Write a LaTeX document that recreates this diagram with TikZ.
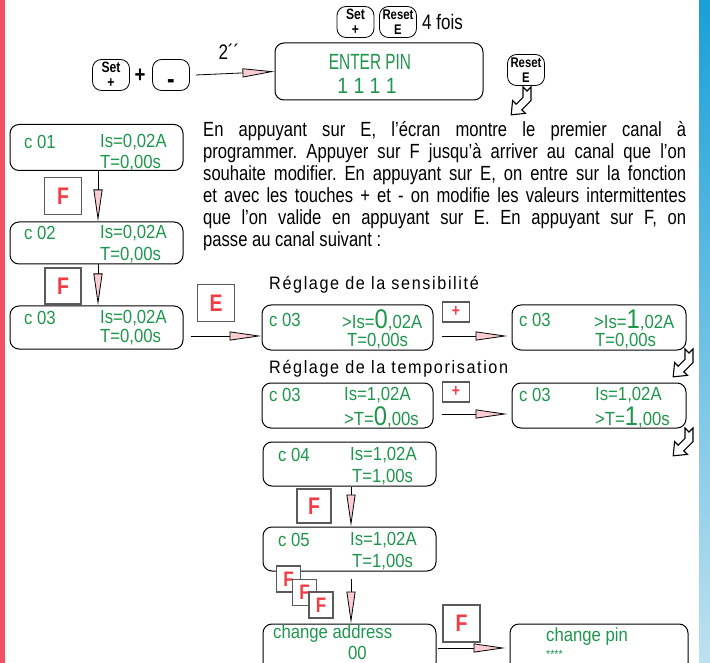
\documentclass[tikz,border=0pt]{standalone}
\usepackage{fontspec}
\setmainfont[FakeStretch=0.81]{Liberation Sans}
\newfontfamily\lcdfont[FakeStretch=0.88]{Liberation Sans}
\newfontfamily\pinfont[FakeStretch=0.7]{Liberation Sans}
\newfontfamily\spacedfont[FakeStretch=0.9,LetterSpace=9]{Liberation Sans}
\usetikzlibrary{arrows.meta,positioning}
\definecolor{LcdGreen}{RGB}{30,150,75}
\definecolor{KeyRed}{RGB}{245,60,70}
\definecolor{ArrowPink}{RGB}{250,205,210}
\definecolor{FrameGray}{RGB}{90,90,90}
\definecolor{StripRed}{RGB}{240,80,100}
\definecolor{StripBlue}{RGB}{25,160,215}
\definecolor{StripPale}{RGB}{190,225,240}

% hollow turning arrow, #1 = top left corner
\newcommand\turnarrow[1]{%
  \draw[line width=1.1pt, line join=miter, fill=white, shift={(#1)}]
    (16,0) -- (20,4) -- (24,0) -- (24,13.7) -- (14.8,22.8) -- (18.4,26.4)
    -- (4.2,27.8) -- (5.6,13.6) -- (9.2,17.2) -- (16,10.3) -- cycle;}

\begin{document}
\begin{tikzpicture}[x=1pt,y=-1pt,
    lcd/.style={draw, line width=1pt, rounded corners=9pt, inner sep=0pt},
    lcdtxt/.style={font=\lcdfont\fontsize{19}{19}\selectfont, text=LcdGreen, inner sep=0pt, anchor=west},
    keycap/.style={draw, line width=0.8pt, rounded corners=9pt, minimum width=37pt, minimum height=31pt,
      inner sep=0pt, align=center, font=\bfseries\fontsize{15}{15}\selectfont},
    fkey/.style={draw=FrameGray, line width=1.2pt, fill=white, inner sep=0pt, text=KeyRed,
      font=\bfseries\fontsize{24}{24}\selectfont},
    flow/.style={line width=0.8pt, -{Triangle[length=32pt,width=9pt,fill=ArrowPink]}},
  ]
  \useasboundingbox (0,0) rectangle (710,663);
  \clip (0,0) rectangle (710,663);
  \fill[StripRed] (0,0) rectangle (5,663);
  \shade[top color=StripBlue, bottom color=StripPale] (699,0) rectangle (710,663);

  % start: keys and PIN screen
  \node[keycap] (set) at (111,75) {Set\\+};
  \node[font=\bfseries\fontsize{23}{23}\selectfont, inner sep=0pt] (plus) at (140,76) {+};
  \node[keycap, font=\bfseries\fontsize{28}{28}\selectfont] (minus) at (171,75) {\raisebox{-14pt}[0pt][0pt]{-}};
  \node[lcd, minimum width=208pt, minimum height=57pt] (pin) at (379,71.5) {};
  \node[lcdtxt, anchor=center, font=\pinfont\fontsize{22}{22}\selectfont] (pintitle) at (370,62) {ENTER PIN};
  \node[lcdtxt, anchor=center, font=\lcdfont\fontsize{22}{22}\selectfont] (pincode) at (367,86) {1 1 1 1};
  \draw[flow] ([xshift=6pt]minus.east) -- (pin.west) node[pos=0.42, above=10pt, font=\fontsize{21}{21}\selectfont] {2´´};
  \node[keycap] (setb) at (355.5,22) {Set\\+};
  \node[keycap, font=\bfseries\fontsize{14}{15}\selectfont] (resetb) at (398,22) {Reset\\E};
  \node[anchor=west, inner sep=0pt, font=\fontsize{21}{21}\selectfont] (fois) at (422,22) {4 fois};
  \node[keycap, font=\bfseries\fontsize{14}{15}\selectfont] (resetc) at (526,70) {Reset\\E};
  \turnarrow{507,87}

  % explanation
  \node[anchor=north west, inner sep=0pt, align=left, font=\frenchspacing\fontsize{20.5}{22}\selectfont] (intro) at (203,121) {%
    \makebox[483pt][s]{En appuyant sur E, l'écran montre le premier canal à}\\
    \makebox[483pt][s]{programmer. Appuyer sur F jusqu'à arriver au canal que l'on}\\
    \makebox[483pt][s]{souhaite modifier. En appuyant sur E, on entre sur la fonction}\\
    \makebox[483pt][s]{et avec les touches + et - on modifie les valeurs intermittentes}\\
    \makebox[483pt][s]{que l'on valide en appuyant sur E. En appuyant sur F, on}\\
    passe au canal suivant :};

  % channels 01 to 03
  \foreach \n/\y/\h/\a/\b in {01/147.5/46/142/163, 02/243/42/233/255, 03/327.5/43/318/337} {
    \node[lcd, minimum width=173pt, minimum height=\h pt] (c\n) at (96.5,\y) {};
    \node[lcdtxt] at (24,\a) {c \n};
    \node[lcdtxt] at (100,\a) {Is=0,02A};
    \node[lcdtxt] at (100,\b) {T=0,00s};
  }
  \node[fkey, minimum size=37pt] (f1) at (63,196) {F};
  \node[fkey, minimum size=36pt] (f2) at (63,286) {F};
  \draw[flow] ([xshift=1.5pt]c01.south) -- ([xshift=1.5pt]c02.north);
  \draw[flow] ([xshift=1.5pt]c02.south) -- ([xshift=1.5pt]c03.north);
  \node[fkey, minimum size=37pt] (e1) at (216,303) {E};

  % sensibility
  \node[anchor=west, inner sep=0pt, font=\spacedfont\fontsize{18}{18}\selectfont] (lblsens) at (269,285) {Réglage de la sensibilité};
  \node[lcd, minimum width=171pt, minimum height=45pt] (sensa) at (347.5,327.5) {};
  \node[lcdtxt] at (269,320) {c 03};
  \node[lcdtxt] at (342,320) {>Is=\fontsize{27}{27}\selectfont 0\fontsize{19}{19}\selectfont,02A};
  \node[lcdtxt] at (347,341) {T=0,00s};
  \node[lcd, minimum width=174pt, minimum height=45pt] (sensb) at (599,327.5) {};
  \node[lcdtxt] at (519,320) {c 03};
  \node[lcdtxt] at (594,320) {>Is=\fontsize{27}{27}\selectfont 1\fontsize{19}{19}\selectfont,02A};
  \node[lcdtxt] at (595,341) {T=0,00s};
  \draw[flow] ([shift={(7,8.5)}]c03.east) -- ([yshift=-8.5pt]sensa.west);
  \draw[flow] ([shift={(8,8.5)}]sensa.east) -- ([shift={(-4,8.5)}]sensb.west);
  \node[fkey, minimum width=27pt, minimum height=20pt, font=\bfseries\fontsize{17}{17}\selectfont] (plus1) at (456,312) {+};
  \turnarrow{669,349}

  % timer
  \node[anchor=west, inner sep=0pt, font=\spacedfont\fontsize{18}{18}\selectfont] (lbltemp) at (269,369) {Réglage de la temporisation};
  \node[lcd, minimum width=171pt, minimum height=45pt] (tempa) at (347.5,405.5) {};
  \node[lcdtxt] at (269,395) {c 03};
  \node[lcdtxt] at (344,395) {Is=1,02A};
  \node[lcdtxt] at (344,417) {>T=\fontsize{27}{27}\selectfont 0\fontsize{19}{19}\selectfont,00s};
  \node[lcd, minimum width=174pt, minimum height=45pt] (tempb) at (599,405.5) {};
  \node[lcdtxt] at (519,395) {c 03};
  \node[lcdtxt] at (595,395) {Is=1,02A};
  \node[lcdtxt] at (595,417) {>T=\fontsize{27}{27}\selectfont 1\fontsize{19}{19}\selectfont,00s};
  \draw[flow] ([shift={(8,8.5)}]tempa.east) -- ([shift={(-4,8.5)}]tempb.west);
  \node[fkey, minimum width=27pt, minimum height=20pt, font=\bfseries\fontsize{17}{17}\selectfont] (plus2) at (456,392) {+};
  \turnarrow{669,428}

  % channels 04, 05 and settings
  \node[lcd, minimum width=173pt, minimum height=44pt] (c04) at (349.5,464) {};
  \node[lcdtxt] at (278,455) {c 04};
  \node[lcdtxt] at (350,455) {Is=1,02A};
  \node[lcdtxt] at (352,477) {T=1,00s};
  \node[lcd, minimum width=173pt, minimum height=44pt] (c05) at (349.5,549) {};
  \node[lcdtxt] at (278,540) {c 05};
  \node[lcdtxt] at (350,540) {Is=1,02A};
  \node[lcdtxt] at (352,562) {T=1,00s};
  \node[fkey, minimum size=34pt] (f3) at (314,506) {F};
  \draw[flow] ([xshift=1.5pt]c04.south) -- ([xshift=1.5pt]c05.north);
  \node[lcd, minimum width=173pt, minimum height=48pt] (addr) at (349.5,648) {};
  \node[lcdtxt] at (273,634) {change address};
  \node[lcdtxt] at (348,653) {00};
  \draw[flow] ([shift={(1.5,7)}]c05.south) -- ([xshift=1.5pt]addr.north);
  \foreach \x/\y [count=\i] in {288.5/579, 304.5/592.5, 321/605}
    \node[fkey, minimum width=24pt, minimum height=26pt, font=\bfseries\fontsize{21}{21}\selectfont] (ff\i) at (\x,\y) {F};
  \node[lcd, minimum width=178pt, minimum height=48pt] (chpin) at (599,648) {};
  \node[lcdtxt] at (546,637) {change pin};
  \node[lcdtxt, font=\lcdfont\fontsize{12}{12}\selectfont] at (546,654) {****};
  \node[fkey, minimum size=37pt] (f4) at (461.5,623.5) {F};
  \draw[flow] ([xshift=1pt]addr.east) -- ([xshift=-4pt]chpin.west);
\end{tikzpicture}
\end{document}
